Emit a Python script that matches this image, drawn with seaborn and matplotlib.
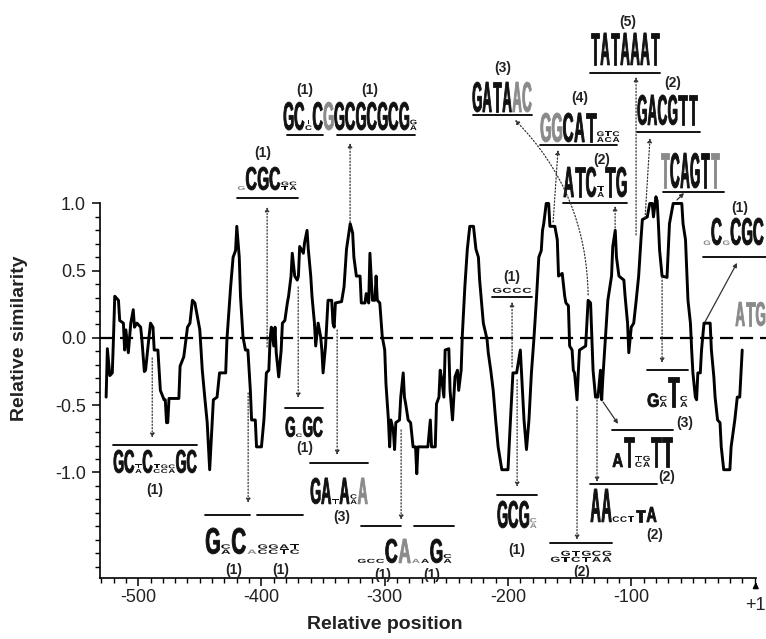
import matplotlib

matplotlib.use("Agg")
import matplotlib.pyplot as plt
import pandas as pd
import seaborn as sns
from matplotlib.font_manager import FontProperties
from matplotlib.patches import PathPatch
from matplotlib.textpath import TextPath
from matplotlib.ticker import FixedLocator
from matplotlib.transforms import Affine2D

# --- data: similarity profile ---
positions = [
    -526, -525, -523, -521, -520, -519, -516, -515, -512, -511, -510, -508, -506, -504, -503, -501,
    -498, -497, -495, -494, -492, -490, -488, -487, -484, -482, -479, -478, -477, -476, -475, -467,
    -466, -463, -460, -458, -456, -454, -451, -450, -448, -446, -444, -442, -440, -439, -436, -434,
    -429, -428, -425, -423, -421, -420, -418, -417, -415, -413, -411, -409, -408, -405, -404, -400,
    -398, -396, -394, -393, -392, -390, -389, -388, -386, -384, -383, -381, -379, -378, -376, -375,
    -373, -371, -370, -369, -366, -365, -363, -362, -360, -359, -357, -356, -354, -352, -351, -350,
    -348, -347, -346, -343, -342, -341, -340, -335, -333, -331, -328, -326, -325, -323, -320, -319,
    -316, -315, -313, -312, -310, -308, -307, -306, -304, -302, -300, -299, -297, -296, -295, -293,
    -292, -291, -288, -287, -285, -284, -283, -281, -279, -277, -275, -274, -273, -265, -263, -262,
    -259, -258, -256, -255, -254, -252, -251, -248, -247, -245, -243, -241, -240, -238, -237, -235,
    -233, -231, -228, -226, -224, -223, -220, -217, -216, -214, -212, -210, -208, -205, -200, -198,
    -196, -193, -190, -189, -187, -185, -183, -181, -179, -177, -175, -173, -172, -171, -169, -167,
    -166, -162, -160, -159, -156, -154, -153, -151, -150, -148, -147, -146, -144, -143, -142, -137,
    -136, -135, -133, -132, -131, -129, -127, -125, -124, -123, -121, -120, -119, -116, -115, -113,
    -112, -110, -106, -105, -103, -102, -100, -98, -96, -94, -92, -91, -87, -85, -83, -82,
    -80, -79, -78, -77, -75, -71, -70, -69, -67, -66, -59, -58, -56, -55, -54, -52,
    -51, -50, -48, -47, -46, -44, -43, -41, -36, -35, -33, -32, -30, -28, -27, -25,
    -20, -19, -16, -14, -12, -10,
]
similarity = [
    -0.44, -0.08, -0.28, -0.26, 0.01, 0.31, 0.28, 0.13, 0.11, -0.09, 0.06, -0.11, 0.11, 0.21, 0.08, 0.11,
    0.08, -0.01, -0.25, -0.24, -0.06, 0.11, 0.08, -0.09, -0.09, -0.39, -0.46, -0.46, -0.63, -0.63, -0.45, -0.45,
    -0.21, -0.14, 0.08, 0.11, 0.28, 0.26, 0.11, 0.06, -0.24, -0.44, -0.63, -0.98, -0.63, -0.46, -0.44, -0.26,
    -0.26, -0.01, 0.38, 0.60, 0.65, 0.83, 0.60, 0.31, 0.01, -0.09, -0.09, -0.39, -0.61, -0.61, -0.81, -0.81,
    -0.61, -0.26, -0.24, -0.01, 0.08, -0.06, 0.08, -0.11, -0.29, -0.09, 0.11, 0.13, 0.26, 0.31, 0.46, 0.63,
    0.46, 0.43, 0.46, 0.68, 0.63, 0.71, 0.80, 0.66, 0.46, 0.31, 0.11, -0.06, 0.11, 0.01, -0.09, -0.26,
    -0.06, 0.11, 0.28, 0.28, 0.11, 0.08, 0.26, 0.27, 0.38, 0.66, 0.85, 0.78, 0.60, 0.46, 0.46, 0.26,
    0.26, 0.33, 0.26, 0.63, 0.28, 0.28, 0.46, 0.28, 0.26, 0.01, -0.09, -0.34, -0.61, -0.81, -0.61, -0.69,
    -0.83, -0.63, -0.61, -0.44, -0.26, -0.44, -0.49, -0.61, -0.63, -0.81, -0.81, -1.01, -0.81, -0.81, -0.61, -0.81,
    -0.81, -0.49, -0.44, -0.24, -0.29, -0.44, -0.09, -0.08, -0.39, -0.61, -0.29, -0.24, -0.39, -0.24, 0.03, 0.38,
    0.66, 0.83, 0.83, 0.66, 0.60, 0.43, 0.11, -0.01, -0.11, -0.24, -0.39, -0.61, -0.81, -0.98, -0.98, -0.61,
    -0.26, -0.26, -0.09, -0.26, -0.61, -0.83, -0.61, -0.26, -0.01, 0.28, 0.60, 0.65, 0.80, 0.85, 1.00, 1.00,
    0.83, 0.83, 0.73, 0.46, 0.48, 0.31, 0.26, 0.24, -0.06, -0.09, -0.24, -0.26, -0.46, -0.26, -0.09, -0.06,
    0.11, 0.28, 0.26, 0.01, -0.24, -0.44, -0.44, -0.24, -0.46, -0.29, -0.01, 0.13, 0.28, 0.46, 0.68, 0.80,
    0.60, 0.46, 0.43, 0.31, 0.11, -0.11, 0.08, 0.11, 0.28, 0.46, 0.75, 0.88, 0.90, 1.00, 1.00, 0.90,
    1.05, 1.02, 0.85, 0.65, 0.46, 0.45, 0.65, 0.85, 0.95, 1.00, 1.00, 0.85, 0.73, 0.51, 0.28, 0.11,
    -0.09, -0.26, -0.44, -0.46, -0.26, -0.26, -0.09, 0.11, 0.11, -0.09, -0.29, -0.44, -0.61, -0.63, -0.81, -0.98,
    -0.98, -0.81, -0.61, -0.44, -0.44, -0.09,
]

x_tick_values = [-500, -400, -300, -200, -100]
x_tick_labels = ["-500", "-400", "-300", "-200", "-100"]
y_tick_values = [-1.0, -0.5, 0.0, 0.5, 1.0]

# sequence logos (upper case = full letter, lower case = small stacked letters, ~ = grey)
logo_specs = [
    "G C tc C ~G G C G C G C G ga",
    "~g C G C gt ca",
    "G A T A ~A ~C",
    "~G ~G C A T ga tc ca",
    "T A T A A A T",
    "G A C G T T",
    "A T C ta T G",
    "~T C A G T ~T",
    "~g C ~g C G C",
    "~A ~T ~G",
    "G C ta C tc gc ca G C",
    "G ca C ~a gc gc at tc",
    "G c G C",
    "G A t A ca ~A",
    "g c c C ~A ~a a G ca",
    "g c c c",
    "G C G ~ca",
    "g gt tc gt ca ga",
    "A A c c t T:0.35 A:0.45",
    "A:0.45 T tc ga T T",
    "G:0.45 ca T ca",
]
site_counts = [
    "(1)", "(1)", "(1)", "(3)", "(4)", "(5)", "(2)", "(2)", "(1)", "(1)", "(1)",
    "(1)", "(1)", "(3)", "(1)", "(1)", "(1)", "(1)", "(2)", "(2)", "(2)", "(3)",
]

# --- layout of the annotations (data coordinates) ---
logo_boxes = [  # x_left, x_right, baseline, height
    (-382.4, -273.7, 1.546, 0.208), (-419.7, -371.0, 1.100, 0.171), (-229.1, -180.5, 1.680, 0.223),
    (-174.0, -109.1, 1.457, 0.216), (-133.4, -76.7, 2.030, 0.238), (-95.3, -45.8, 1.584, 0.223),
    (-155.3, -103.4, 1.048, 0.223), (-76.7, -28.0, 1.115, 0.260), (-41.8, 7.7, 0.691, 0.201),
    (-15.8, 9.0, 0.089, 0.178), (-520.3, -452.2, -1.004, 0.171), (-445.7, -368.6, -1.606, 0.193),
    (-380.8, -350.0, -0.736, 0.149), (-360.5, -313.5, -1.234, 0.193), (-322.4, -245.3, -1.673, 0.178),
    (-212.9, -180.5, 0.335, 0.223), (-208.9, -176.4, -1.413, 0.201), (-165.9, -115.6, -1.665, 0.223),
    (-133.4, -79.1, -1.368, 0.245), (-115.6, -66.1, -0.959, 0.223), (-87.2, -53.9, -0.513, 0.223),
]
underlines = [
    (-379.2, -350.0, 1.509), (-338.6, -275.4, 1.509), (-419.7, -370.2, 1.041), (-228.3, -180.5, 1.658),
    (-174.0, -111.5, 1.435), (-133.4, -76.7, 1.970), (-95.3, -44.2, 1.532), (-155.3, -103.4, 1.004),
    (-74.2, -24.8, 1.086), (-41.8, 9.3, 0.602), (-520.3, -452.2, -0.796), (-445.7, -409.2, -1.316),
    (-403.5, -366.2, -1.316), (-380.8, -350.0, -0.520), (-360.5, -313.5, -0.929), (-319.1, -286.7, -1.398),
    (-276.2, -243.7, -1.398), (-212.9, -180.5, 0.305), (-208.9, -176.4, -1.167), (-165.9, -115.6, -1.524),
    (-133.4, -79.1, -1.086), (-115.6, -66.1, -0.684), (-87.2, -53.9, -0.238),
]
count_pos = [
    (-364.6, 1.844), (-311.8, 1.844), (-398.6, 1.375), (-204.0, 2.007), (-141.5, 1.784), (-102.6, 2.349),
    (-66.1, 1.896), (-123.7, 1.323), (-11.8, 0.967), (-486.2, -1.130), (-422.1, -1.725), (-384.0, -1.725),
    (-364.6, -0.818), (-334.6, -1.331), (-301.3, -1.762), (-261.6, -1.762), (-196.7, 0.454), (-192.6, -1.576),
    (-139.9, -1.740), (-80.7, -1.465), (-71.0, -1.033), (-56.4, -0.632),
]
arrows = [  # x_from, y_from, x_to, y_to, linestyle, curvature
    (-488.6, -0.149, -488.6, -0.743, ":", 0.0),
    (-410.8, -0.409, -410.8, -1.227, ":", 0.0),
    (-370.2, 0.379, -370.2, -0.446, ":", 0.0),
    (-395.4, -0.067, -395.4, 0.974, ":", 0.0),
    (-338.6, 0.059, -338.6, -0.870, ":", 0.0),
    (-328.1, 0.862, -328.1, 1.450, ":", 0.0),
    (-286.7, -0.684, -286.7, -1.353, ":", 0.0),
    (-196.7, -0.216, -196.7, 0.268, ":", 0.0),
    (-192.6, -0.312, -192.6, -1.108, ":", 0.0),
    (-144.0, -0.513, -144.0, -1.502, ":", 0.0),
    (-127.8, -0.461, -127.8, -1.071, ":", 0.0),
    (-122.9, -0.476, -110.7, -0.639, "-", 0.0),
    (-75.0, 0.454, -75.0, -0.186, ":", 0.0),
    (-40.2, 0.119, -14.2, 0.558, "-", 0.0),
    (-135.0, 0.320, -194.3, 1.621, ":", 0.2),
    (-163.4, 0.862, -159.4, 1.398, ":", 0.0),
    (-113.1, 0.818, -113.1, 0.981, ":", 0.0),
    (-96.1, 0.766, -96.1, 1.941, ":", 0.0),
    (-88.8, 0.892, -84.8, 1.487, ":", 0.0),
    (-62.9, 1.026, -57.2, 1.078, "-", 0.0),
]

BLACK = "#111111"
GREY = "#8a8a8a"
LOGO_FONT = FontProperties(family="Liberation Sans", weight="bold")
_glyphs = {}


def put_letter(ax, ch, x, y, w, h, color, stroke=0.0):
    if ch not in _glyphs:
        path = TextPath((0, 0), ch, size=1, prop=LOGO_FONT)
        _glyphs[ch] = (path, path.get_extents())
    path, bb = _glyphs[ch]
    tr = (
        Affine2D()
        .translate(-bb.x0, -bb.y0)
        .scale(w / bb.width, h / bb.height)
        .translate(x, y)
    )
    ax.add_patch(
        PathPatch(path, transform=tr + ax.transData, fc=color,
                  ec=color if stroke else "none", lw=stroke, clip_on=False)
    )


def draw_logo(ax, spec, x_left, x_right, y_base, height):
    parsed = []
    units = 0.0
    for tok in spec.split():
        color = BLACK
        if tok.startswith("~"):
            color, tok = GREY, tok[1:]
        scale = 1.0
        if ":" in tok:
            tok, s = tok.split(":")
            scale = float(s)
        small = tok.islower()
        units += 0.7 if small else 1.0
        parsed.append((tok, scale, small, color))

    w = (x_right - x_left) / units
    x = x_left
    for tok, scale, small, color in parsed:
        if small:
            cw = 0.7 * w
            sh = 0.2 * height
            y = y_base
            for ch in tok[::-1]:
                put_letter(ax, ch.upper(), x + 0.08 * cw, y, 0.84 * cw, 0.85 * sh, color)
                y += sh
            x += cw
        else:
            put_letter(ax, tok, x + 0.06 * w, y_base, 0.88 * w, height * scale, color,
                       stroke=0.6)
            x += w


sns.set_theme(style="ticks")
plt.rcParams["font.family"] = ["Liberation Sans", "DejaVu Sans"]

fig = plt.figure(figsize=(7.66, 6.39), dpi=100)
ax = fig.add_axes([0.1305, 0.0955, 0.8695, 0.9045])

df = pd.DataFrame({"position": positions, "similarity": similarity})
sns.lineplot(
    data=df, x="position", y="similarity", ax=ax,
    sort=False, estimator=None, color="black", linewidth=2.1,
)
ax.axhline(0, color="black", linewidth=1.6, linestyle=(0, (5.9, 3.1)), zorder=1)

x_lo, x_hi = -531, 9.3
y_lo, y_hi = -1.785, 2.513
ax.set_xlim(x_lo, x_hi)
ax.set_ylim(y_lo, y_hi)

sns.despine(ax=ax)
for side in ["left", "bottom"]:
    ax.spines[side].set_linewidth(1.2)
    ax.spines[side].set_color("black")
ax.spines["left"].set_bounds(y_lo, 1.0)
ax.spines["bottom"].set_bounds(x_lo, 1)

ax.set_xticks(x_tick_values)
ax.set_xticklabels(x_tick_labels)
ax.xaxis.set_minor_locator(FixedLocator(list(range(-530, 1, 10))))
ax.set_yticks(y_tick_values)
ax.set_yticklabels([f"{v:.1f}" for v in y_tick_values])
ax.yaxis.set_minor_locator(FixedLocator([i / 10 for i in range(-17, 11)]))
ax.tick_params(which="major", direction="out", length=6, width=1.1, labelsize=13,
               color="black", labelcolor="#222222")
ax.tick_params(which="minor", direction="out", length=3.5, width=1.0, color="black")
ax.tick_params(axis="x", which="major", pad=2)
ax.tick_params(axis="y", which="major", pad=4)

ax.set_xlabel("Relative position", fontsize=14, fontweight="bold", color="#222222")
ax.set_ylabel("Relative similarity", fontsize=14, fontweight="bold", color="#222222")
ax.xaxis.set_label_coords(0.428, -0.066)
ax.yaxis.set_label_coords(-0.108, 0.415)

ax.annotate(
    "+1", xy=(1, y_lo), xytext=(0, -20), textcoords="offset points",
    ha="center", va="center", fontsize=13, color="#222222", annotation_clip=False,
    arrowprops=dict(arrowstyle="-|>", color="black", lw=1.2, shrinkA=6, shrinkB=3,
                    mutation_scale=8),
)

for spec, (xl, xr, yb, h) in zip(logo_specs, logo_boxes):
    draw_logo(ax, spec, xl, xr, yb, h)

for x1, x2, y in underlines:
    ax.plot([x1, x2], [y, y], color="black", linewidth=1.3, clip_on=False)

for label, (x, y) in zip(site_counts, count_pos):
    ax.text(x, y, label, ha="center", va="center", fontsize=10, fontweight="bold",
            color="#222222", clip_on=False)

for x1, y1, x2, y2, ls, rad in arrows:
    ax.annotate(
        "", xy=(x2, y2), xytext=(x1, y1), annotation_clip=False,
        arrowprops=dict(arrowstyle="-|>", lw=0.9, linestyle=ls, color="#333333",
                        shrinkA=0, shrinkB=0, mutation_scale=6,
                        connectionstyle=f"arc3,rad={rad}"),
    )

fig.savefig("out.png", dpi=100)
plt.close(fig)
